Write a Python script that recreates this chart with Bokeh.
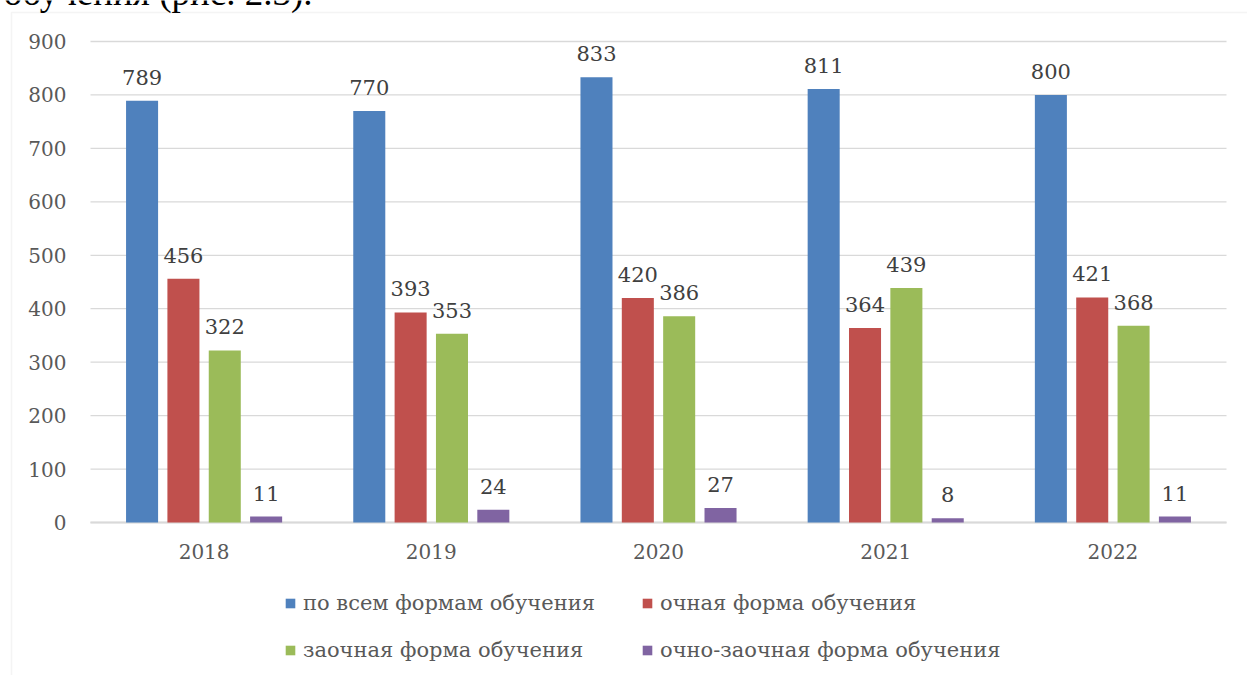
from bokeh.plotting import figure
from bokeh.models import (Range1d, Legend, LegendItem, Label, ColumnDataSource,
                          BoxAnnotation)
from bokeh.transform import dodge
from bokeh.core.properties import value
from bokeh.embed import file_html
from bokeh.resources import INLINE

years = ["2018", "2019", "2020", "2021", "2022"]
all_forms = [789, 770, 833, 811, 800]
full_time = [456, 393, 420, 364, 421]
extramural = [322, 353, 386, 439, 368]
part_time = [11, 24, 27, 8, 11]
series_names = ["по всем формам обучения", "очная форма обучения",
                "заочная форма обучения", "очно-заочная форма обучения"]
y_ticks = [0, 100, 200, 300, 400, 500, 600, 700, 800, 900]
header_text = "обучения (рис. 2.3)."

colors = ["#4F81BD", "#C0504D", "#9BBB59", "#8064A2"]
FONT = "DejaVu Serif"
GRID = "#d9d9d9"

W, H = 1247, 675
pos = list(range(len(years)))          # category slots 0..4
src = ColumnDataSource(dict(
    pos=pos, year=years, s0=all_forms, s1=full_time, s2=extramural, s3=part_time,
    t0=[str(v) for v in all_forms], t1=[str(v) for v in full_time],
    t2=[str(v) for v in extramural], t3=[str(v) for v in part_time],
))
tick_src = ColumnDataSource(dict(y=y_ticks, label=[str(t) for t in y_ticks],
                                 x0=[-0.5] * len(y_ticks),
                                 x1=[len(years) - 0.5] * len(y_ticks)))

# the whole canvas is the plot frame; category slot = 227.2 px, 100 units = 53.44 px
PX_X = 227.2
PX_Y = 0.5344
x_start = -203.6 / PX_X
y_top = 900 + 41 / PX_Y
y_bot = -(H - 522) / PX_Y

p = figure(x_range=Range1d(x_start, x_start + W / PX_X),
           y_range=Range1d(y_bot, y_top),
           width=W, height=H, output_backend="svg", toolbar_location=None,
           min_border=0, min_border_left=0, min_border_right=0,
           min_border_top=0, min_border_bottom=0)
p.xaxis.visible = False
p.yaxis.visible = False
p.grid.visible = False
p.outline_line_color = None
p.background_fill_color = "white"
p.border_fill_color = "white"

# horizontal gridlines across the plot area
p.segment(x0="x0", x1="x1", y0="y", y1="y", source=tick_src,
          line_color=GRID, line_width=1.3)
p.segment(x0=[-0.5], x1=[len(years) - 0.5], y0=[0], y1=[0],
          line_color=GRID, line_width=2)

# y tick labels
p.text(x="x0", y="y", text="label", source=tick_src, text_align="right",
       text_baseline="middle", x_offset=-24, text_font=value(FONT),
       text_font_size="20px", text_color="#595959")

offsets = [-0.273, -0.091, 0.091, 0.273]
renderers = []
for i in range(4):
    r = p.vbar(x=dodge("pos", offsets[i]), top="s%d" % i, bottom=0,
               width=0.141, source=src, fill_color=colors[i], line_color=None)
    renderers.append(r)
    p.text(x=dodge("pos", offsets[i]), y="s%d" % i, text="t%d" % i,
           source=src, text_align="center", text_baseline="bottom",
           y_offset=-16, text_font=value(FONT), text_font_size="21px",
           text_color="#404040")

# category labels under the zero line
p.text(x="pos", y=0, text="year", source=src, text_align="center",
       text_baseline="top", y_offset=22, text_font=value(FONT),
       text_font_size="20px", text_color="#595959")

legend = Legend(items=[LegendItem(label=series_names[i], renderers=[renderers[i]])
                       for i in range(4)],
                orientation="horizontal", nrows=2,
                location=(284, 13), margin=0, padding=0,
                glyph_width=12, glyph_height=12, label_standoff=7,
                label_height=24, label_width=315, spacing=23,
                label_text_font=FONT, label_text_font_size="21px",
                label_text_color="#595959",
                border_line_color=None, background_fill_alpha=0)
p.add_layout(legend)

# light grey chart-area border (left and top edges visible)
p.add_layout(BoxAnnotation(left=11, left_units="canvas", top=12,
                           top_units="canvas", right=W + 50,
                           right_units="canvas", bottom=H + 50,
                           bottom_units="canvas", fill_alpha=0,
                           line_color=GRID, line_width=1.5))

# fragment of the surrounding document text, cut by the top edge
p.add_layout(Label(x=312, y=-8, x_units="canvas", y_units="canvas",
                   text=header_text, text_font="Liberation Serif",
                   text_font_size="37px", text_color="black",
                   text_align="right", text_baseline="alphabetic"))

open("out.html", "w").write(file_html(p, INLINE))
